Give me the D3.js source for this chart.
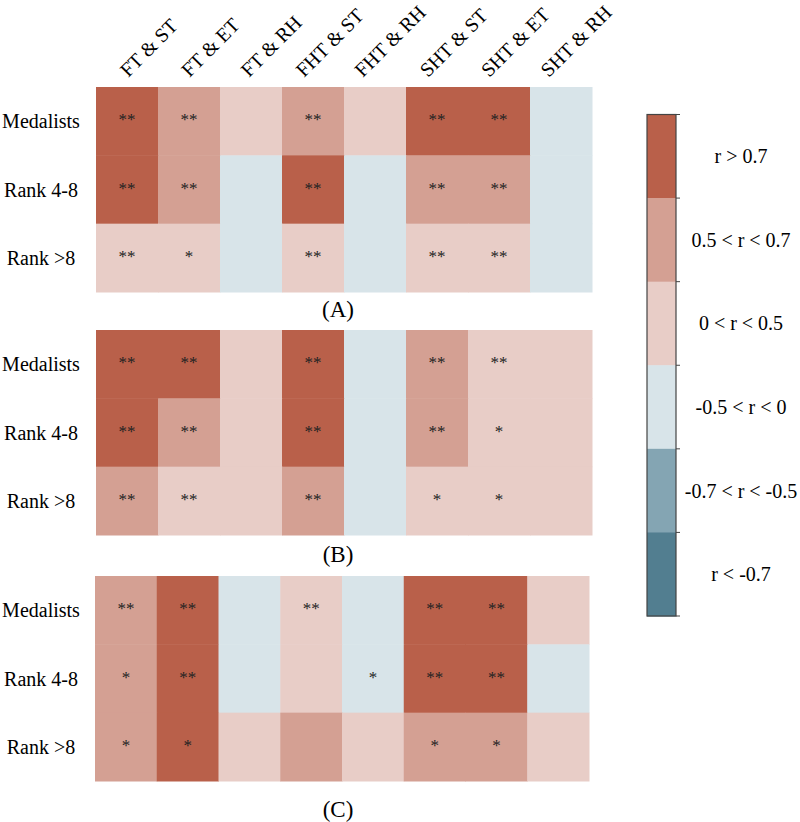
<!DOCTYPE html>
<html>
<head>
<meta charset="utf-8">
<script src="https://cdn.jsdelivr.net/npm/d3@7"></script>
<style>
  body { margin: 0; background: #fff; }
  svg { display: block; }
  svg text { font-family: "Liberation Serif", "Times New Roman", Times, serif; }
</style>
</head>
<body>
<svg id="chart" width="800" height="822"></svg>
<script>
// column pairs and row groups
const pairs = ["FT & ST", "FT & ET", "FT & RH", "FHT & ST", "FHT & RH", "SHT & ST", "SHT & ET", "SHT & RH"];
const groups = ["Medalists", "Rank 4-8", "Rank >8"];

// correlation class per cell: 5 = r>0.7 ... 0 = r<-0.7
const levelsA = [
  [5, 4, 3, 4, 3, 5, 5, 2],
  [5, 4, 2, 5, 2, 4, 4, 2],
  [3, 3, 2, 3, 2, 3, 3, 2]
];
const starsA = [
  ["**", "**", "", "**", "", "**", "**", ""],
  ["**", "**", "", "**", "", "**", "**", ""],
  ["**", "*", "", "**", "", "**", "**", ""]
];
const levelsB = [
  [5, 5, 3, 5, 2, 4, 3, 3],
  [5, 4, 3, 5, 2, 4, 3, 3],
  [4, 3, 3, 4, 2, 3, 3, 3]
];
const starsB = [
  ["**", "**", "", "**", "", "**", "**", ""],
  ["**", "**", "", "**", "", "**", "*", ""],
  ["**", "**", "", "**", "", "*", "*", ""]
];
const levelsC = [
  [4, 5, 2, 3, 2, 5, 5, 3],
  [4, 5, 2, 3, 2, 5, 5, 2],
  [4, 5, 3, 4, 3, 4, 4, 3]
];
const starsC = [
  ["**", "**", "", "**", "", "**", "**", ""],
  ["*", "**", "", "", "*", "**", "**", ""],
  ["*", "*", "", "", "", "*", "*", ""]
];

const legendLabels = ["r > 0.7", "0.5 < r < 0.7", "0 < r < 0.5", "-0.5 < r < 0", "-0.7 < r < -0.5", "r < -0.7"];
const legendLevels = [5, 4, 3, 2, 1, 0];

const color = d3.scaleOrdinal()
  .domain([5, 4, 3, 2, 1, 0])
  .range(["#b9604a", "#d4a093", "#e8cdc7", "#d8e4e9", "#84a5b3", "#527e90"]);

const svg = d3.select("#chart");

const panels = [
  { levels: levelsA, stars: starsA, tag: "(A)", x0: 96, x1: 592, y0: 87, y1: 292, ty: 317 },
  { levels: levelsB, stars: starsB, tag: "(B)", x0: 96, x1: 592, y0: 330, y1: 535, ty: 562 },
  { levels: levelsC, stars: starsC, tag: "(C)", x0: 95, x1: 589, y0: 576, y1: 781, ty: 817 }
];

panels.forEach((p, pi) => {
  const x = d3.scaleBand().domain(pairs).range([p.x0, p.x1]);
  const y = d3.scaleBand().domain(groups).range([p.y0, p.y1]);

  const cells = [];
  groups.forEach((g, i) => pairs.forEach((c, j) => {
    cells.push({ g: g, c: c, level: p.levels[i][j], star: p.stars[i][j] });
  }));

  const g = svg.append("g");

  g.selectAll("rect")
    .data(cells)
    .join("rect")
    .attr("x", d => x(d.c))
    .attr("y", d => y(d.g))
    .attr("width", x.bandwidth() + 0.5)
    .attr("height", y.bandwidth() + 0.5)
    .attr("fill", d => color(d.level));

  g.selectAll("text.star")
    .data(cells.filter(d => d.star))
    .join("text")
    .attr("class", "star")
    .attr("x", d => x(d.c) + x.bandwidth() / 2)
    .attr("y", d => y(d.g) + y.bandwidth() / 2 + 4)
    .attr("text-anchor", "middle")
    .attr("font-size", 17)
    .attr("fill", "#222")
    .text(d => d.star);

  g.selectAll("text.row")
    .data(groups)
    .join("text")
    .attr("class", "row")
    .attr("x", 41)
    .attr("y", d => y(d) + y.bandwidth() / 2 + 7)
    .attr("text-anchor", "middle")
    .attr("font-size", 20)
    .attr("fill", "#000")
    .text(d => d);

  g.append("text")
    .attr("x", 338)
    .attr("y", p.ty)
    .attr("text-anchor", "middle")
    .attr("font-size", 23)
    .attr("fill", "#000")
    .text(p.tag);

  // rotated pair labels, only above the first panel
  if (pi === 0) {
    const lab = g.selectAll("text.col")
      .data(pairs)
      .join("text")
      .attr("class", "col")
      .attr("font-size", 20)
      .attr("fill", "#000")
      .text(d => d);
    lab.each(function(d) {
      const L = this.getComputedTextLength();
      const ax = x(d) + x.bandwidth() / 2 + 52 - L * Math.SQRT1_2;
      d3.select(this).attr("transform", `translate(${ax},78) rotate(-45)`);
    });
  }
});

// legend
const ly = d3.scaleBand().domain(legendLabels).range([114.5, 616]);
const leg = svg.append("g");

leg.selectAll("rect")
  .data(legendLabels)
  .join("rect")
  .attr("x", 647)
  .attr("y", d => ly(d))
  .attr("width", 29)
  .attr("height", ly.bandwidth() + 0.5)
  .attr("fill", (d, i) => color(legendLevels[i]));

leg.append("rect")
  .attr("x", 647)
  .attr("y", 114.5)
  .attr("width", 29)
  .attr("height", 616 - 114.5)
  .attr("fill", "none")
  .attr("stroke", "#444")
  .attr("stroke-width", 1.2);

const bounds = legendLabels.map(d => ly(d)).concat([616]);
leg.selectAll("line")
  .data(bounds)
  .join("line")
  .attr("x1", 676)
  .attr("x2", 680)
  .attr("y1", d => d)
  .attr("y2", d => d)
  .attr("stroke", "#444")
  .attr("stroke-width", 1);

leg.selectAll("text")
  .data(legendLabels)
  .join("text")
  .attr("x", 741)
  .attr("y", d => ly(d) + ly.bandwidth() / 2 + 7)
  .attr("text-anchor", "middle")
  .attr("font-size", 20)
  .attr("fill", "#000")
  .text(d => d);
</script>
</body>
</html>
